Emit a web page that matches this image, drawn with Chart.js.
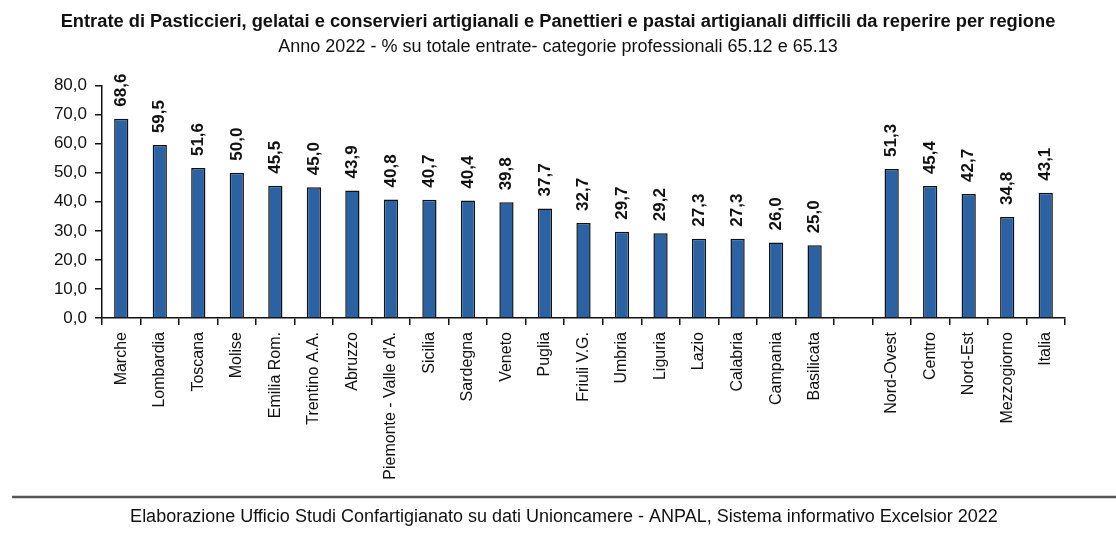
<!DOCTYPE html>
<html>
<head>
<meta charset="utf-8">
<script src="https://cdn.jsdelivr.net/npm/chart.js@4.4.1/dist/chart.umd.min.js"></script>
<style>
  html, body { margin: 0; padding: 0; background: #fff; }
  #wrap { width: 1116px; height: 541px; position: relative; }
</style>
</head>
<body>
<div id="wrap"><canvas id="chart" width="1116" height="541"></canvas></div>
<script>
// Dati: regioni + ripartizioni (una categoria vuota fa da separatore)
const regioni = ['Marche', 'Lombardia', 'Toscana', 'Molise', 'Emilia Rom.', 'Trentino A.A.', 'Abruzzo',
  'Piemonte - Valle d\'A.', 'Sicilia', 'Sardegna', 'Veneto', 'Puglia', 'Friuli V.G.', 'Umbria',
  'Liguria', 'Lazio', 'Calabria', 'Campania', 'Basilicata'];
const valoriRegioni = [68.6, 59.5, 51.6, 50.0, 45.5, 45.0, 43.9, 40.8, 40.7, 40.4, 39.8, 37.7, 32.7,
  29.7, 29.2, 27.3, 27.3, 26.0, 25.0];
const ripartizioni = ['Nord-Ovest', 'Centro', 'Nord-Est', 'Mezzogiorno', 'Italia'];
const valoriRipartizioni = [51.3, 45.4, 42.7, 34.8, 43.1];
const yTicks = [0, 10, 20, 30, 40, 50, 60, 70, 80];

const titolo = 'Entrate di Pasticcieri, gelatai e conservieri artigianali e Panettieri e pastai artigianali difficili da reperire per regione';
const sottotitolo = 'Anno 2022 - % su totale entrate- categorie professionali 65.12 e 65.13';
const fonte = 'Elaborazione Ufficio Studi Confartigianato su dati Unioncamere - ANPAL, Sistema informativo Excelsior 2022';

const labels = [...regioni, '', ...ripartizioni];
const valori = [...valoriRegioni, null, ...valoriRipartizioni];

const FONT = '"Liberation Sans", Arial, sans-serif';
const fmt = v => v.toFixed(1).replace('.', ',');

// Etichette dei valori ruotate sopra le barre
const etichetteValori = {
  id: 'etichetteValori',
  afterDatasetsDraw(chart) {
    const ctx = chart.ctx;
    const meta = chart.getDatasetMeta(0);
    ctx.save();
    ctx.font = 'bold 17px ' + FONT;
    ctx.fillStyle = '#111';
    ctx.textAlign = 'left';
    ctx.textBaseline = 'middle';
    meta.data.forEach((bar, i) => {
      const v = valori[i];
      if (v === null) return;
      ctx.save();
      ctx.translate(bar.x, bar.y - 12);
      ctx.rotate(-Math.PI / 2);
      ctx.fillText(fmt(v), 0, 0);
      ctx.restore();
    });
    ctx.restore();
  }
};

// Linea e fonte in basso
const piede = {
  id: 'piede',
  afterDraw(chart) {
    const ctx = chart.ctx;
    ctx.save();
    ctx.strokeStyle = '#555';
    ctx.lineWidth = 2.5;
    ctx.beginPath();
    ctx.moveTo(12, 497);
    ctx.lineTo(1116, 497);
    ctx.stroke();
    ctx.font = '18px ' + FONT;
    ctx.fillStyle = '#111';
    ctx.textAlign = 'center';
    ctx.textBaseline = 'middle';
    ctx.fillText(fonte, 564, 517);
    ctx.restore();
  }
};

new Chart(document.getElementById('chart'), {
  type: 'bar',
  data: {
    labels: labels,
    datasets: [{
      data: valori,
      backgroundColor: '#2a62a3',
      borderColor: '#111',
      borderWidth: 1.5,
      barPercentage: 0.37,
      categoryPercentage: 1
    }]
  },
  options: {
    responsive: false,
    animation: false,
    layout: { padding: 0 },
    plugins: {
      legend: { display: false },
      tooltip: { enabled: false },
      title: {
        display: true,
        text: titolo,
        color: '#111',
        font: { family: FONT, size: 18.3, weight: 'bold' },
        padding: { top: 11, bottom: 3 }
      },
      subtitle: {
        display: true,
        text: sottotitolo,
        color: '#111',
        font: { family: FONT, size: 18 },
        padding: { top: 0, bottom: 28 }
      }
    },
    scales: {
      x: {
        offset: true,
        grid: { offset: true, drawOnChartArea: false, color: '#111', tickLength: 7, lineWidth: 1.5 },
        border: { color: '#111', width: 1.5 },
        ticks: {
          color: '#111',
          font: { family: FONT, size: 16 },
          minRotation: 90,
          maxRotation: 90,
          autoSkip: false,
          padding: 7
        },
        afterFit(scale) { scale.height = 223; }
      },
      y: {
        min: 0,
        max: 80,
        afterBuildTicks(scale) { scale.ticks = yTicks.map(v => ({ value: v })); },
        grid: { drawOnChartArea: false, color: '#111', tickLength: 7, lineWidth: 1.5 },
        border: { color: '#111', width: 1.5 },
        ticks: {
          color: '#111',
          font: { family: FONT, size: 17 },
          padding: 8,
          callback: v => fmt(v)
        },
        afterFit(scale) { scale.width = 102; }
      },
      // asse vuoto a destra: solo spazio, così titoli restano centrati sulla pagina
      destra: {
        position: 'right',
        display: true,
        grid: { display: false },
        border: { display: false },
        ticks: { display: false },
        afterFit(scale) { scale.width = 51; }
      }
    }
  },
  plugins: [etichetteValori, piede]
});
</script>
</body>
</html>
